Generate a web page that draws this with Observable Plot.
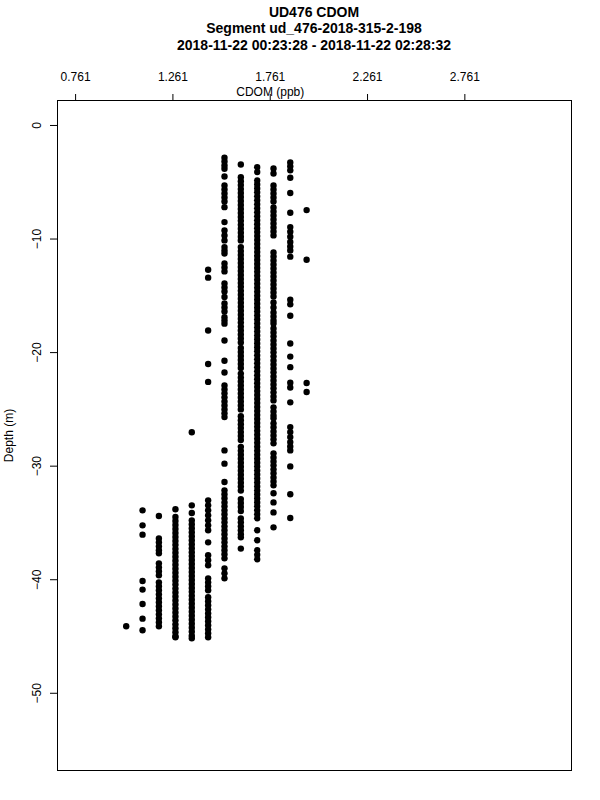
<!DOCTYPE html>
<html>
<head>
<meta charset="utf-8">
<script src="https://cdn.jsdelivr.net/npm/d3@7"></script>
<script src="https://cdn.jsdelivr.net/npm/@observablehq/plot@0.6"></script>
<style>
  html, body { margin: 0; padding: 0; background: #fff; }
  #wrap { position: relative; width: 600px; height: 800px; font-family: "Liberation Sans", Arial, Helvetica, sans-serif; }
  .ttl { position: absolute; left: 0; width: 628px; text-align: center; font-weight: bold; font-size: 14px; line-height: 16px; color: #000; white-space: nowrap; }
  #chart { position: absolute; left: 0; top: 0; }
</style>
</head>
<body>
<div id="wrap">
  <div id="chart"></div>
  <div class="ttl" style="top:4px">UD476 CDOM</div>
  <div class="ttl" style="top:20px">Segment ud_476-2018-315-2-198</div>
  <div class="ttl" style="top:37px">2018-11-22 00:23:28 - 2018-11-22 02:28:32</div>
</div>
<script>
// Instrument resolution: CDOM readings fall on discrete levels (ppb)
const cdomLevels = [1.021, 1.105, 1.189, 1.274, 1.358, 1.442, 1.526, 1.610, 1.694, 1.778, 1.864, 1.948];

// Depths (m, negative down) recorded at each CDOM level
const depthsL01 = [-44.1];
const depthsL02 = [-33.89, -35.21, -36.03, -40.11, -40.87, -42.14, -43.43, -44.45];
const depthsL03 = [-34.39, -36.36, -36.71, -37.06, -37.41, -37.68, -38.56, -38.91, -39.26, -39.61, -40.23, -40.58,
  -40.93, -41.29, -41.64, -41.99, -42.34, -42.69, -43.05, -43.40, -43.75, -44.10];
const depthsL04 = [-33.8, -34.48, -34.83, -35.18, -35.53, -35.88, -36.23, -36.58, -36.93, -37.28, -37.63, -37.98,
  -38.33, -38.68, -39.03, -39.38, -39.73, -40.08, -40.43, -40.78, -41.13, -41.48, -41.83, -42.18, -42.53, -42.88,
  -43.23, -43.58, -43.93, -44.28, -44.63, -44.98, -45.07];
const depthsL05 = [-27.02, -33.45, -34.13, -34.77, -35.12, -35.47, -35.82, -36.17, -36.52, -36.87, -37.22, -37.57,
  -37.92, -38.27, -38.62, -38.97, -39.32, -39.67, -40.02, -40.37, -40.72, -41.07, -41.42, -41.77, -42.12, -42.47,
  -42.82, -43.17, -43.52, -43.87, -44.22, -44.57, -44.92, -45.16];
const depthsL06 = [-12.7, -13.4, -18.05, -21.0, -22.58, -33.01, -33.45, -33.89, -34.33, -34.77, -35.21, -35.65,
  -36.71, -37.85, -38.29, -38.73, -39.88, -40.23, -40.58, -40.93, -41.55, -41.90, -42.25, -42.61, -42.96, -43.31,
  -43.66, -44.01, -44.37, -44.72, -45.07];
const depthsL07 = [-2.84, -3.17, -3.52, -3.81, -4.49, -5.28, -5.63, -5.99, -6.34, -6.69, -7.19, -8.51, -9.24, -9.68,
  -10.12, -10.71, -11.0, -11.27, -12.15, -12.50, -12.85, -13.91, -14.26, -14.61, -15.11, -15.67, -16.02, -16.37,
  -16.88, -17.17, -17.45, -18.93, -20.72, -21.75, -22.89, -23.24, -23.59, -23.94, -24.30, -24.65, -25.0, -25.35,
  -25.68, -28.61, -29.78, -31.40, -32.13, -32.48, -32.83, -33.19, -33.54, -33.89, -34.24, -34.60, -34.95, -35.30,
  -35.65, -36.0, -36.36, -36.71, -37.06, -37.41, -37.76, -38.12, -39.0, -39.44, -39.88];
const depthsL08 = [-3.43, -4.55, -4.9, -5.25, -5.6, -5.95, -6.3, -6.65, -7.0, -7.35, -7.7, -8.05, -8.4, -8.75, -9.1,
  -9.45, -9.8, -10.12, -10.71, -11.06, -11.41, -11.76, -12.11, -12.46, -12.81, -13.16, -13.51, -13.86, -14.21,
  -14.56, -14.91, -15.26, -15.61, -15.96, -16.31, -16.66, -17.01, -17.36, -17.71, -18.06, -18.41, -18.76, -19.11,
  -19.6, -19.95, -20.3, -20.65, -21.0, -21.35, -21.85, -22.2, -22.55, -22.9, -23.25, -23.6, -23.95, -24.3, -24.65,
  -25.0, -25.6, -25.95, -26.3, -26.65, -27.0, -27.35, -27.7, -28.3, -28.65, -29.0, -29.35, -29.7, -30.05, -30.4,
  -30.75, -31.1, -31.45, -31.8, -32.15, -32.9, -33.25, -33.6, -33.95, -34.6, -34.95, -35.3, -35.65, -36.0, -36.27,
  -37.26];
const depthsL09 = [-3.67, -4.1, -4.84, -5.19, -5.54, -5.89, -6.24, -6.59, -6.94, -7.29, -7.64, -7.99, -8.34, -8.69,
  -9.04, -9.39, -9.74, -10.09, -10.44, -10.79, -11.14, -11.49, -11.84, -12.19, -12.54, -12.89, -13.24, -13.59,
  -13.94, -14.29, -14.64, -14.99, -15.34, -15.69, -16.04, -16.39, -16.74, -17.09, -17.44, -17.79, -18.14, -18.49,
  -18.84, -19.19, -19.54, -19.89, -20.24, -20.59, -20.94, -21.29, -21.64, -21.99, -22.34, -22.69, -23.04, -23.39,
  -23.74, -24.09, -24.44, -24.79, -25.14, -25.49, -25.84, -26.19, -26.54, -26.89, -27.24, -27.59, -27.94, -28.29,
  -28.64, -28.99, -29.34, -29.69, -30.04, -30.39, -30.74, -31.09, -31.44, -31.79, -32.14, -32.49, -32.84, -33.19,
  -33.54, -33.89, -34.24, -34.59, -35.65, -36.53, -37.4, -37.8, -38.2];
const depthsL10 = [-3.79, -4.23, -5.28, -5.63, -5.99, -6.34, -6.69, -7.22, -7.57, -7.92, -8.27, -8.63, -8.98, -9.33,
  -9.68, -11.18, -11.53, -11.88, -12.24, -12.59, -12.94, -13.29, -13.64, -14.0, -14.35, -14.70, -15.05, -15.58,
  -16.02, -16.46, -16.81, -17.17, -17.43, -17.87, -18.22, -18.57, -18.93, -19.28, -19.63, -19.98, -20.33, -20.69,
  -21.04, -21.39, -21.74, -22.10, -22.45, -22.80, -23.15, -23.50, -23.86, -24.21, -24.82, -25.18, -25.53, -25.79,
  -26.23, -26.58, -26.94, -27.29, -27.64, -27.99, -28.87, -29.23, -29.58, -29.93, -30.28, -30.63, -30.99, -31.34,
  -31.69, -32.39, -33.19, -34.07, -35.39];
const depthsL11 = [-3.25, -3.6, -3.95, -4.6, -5.95, -7.68, -8.95, -9.35, -9.8, -10.25, -10.65, -11.0, -11.55, -15.35,
  -15.75, -16.76, -19.2, -20.35, -21.28, -22.65, -23.07, -24.38, -26.56, -27.0, -27.44, -27.88, -28.26, -28.61,
  -30.02, -32.48, -34.57];
const depthsL12 = [-7.45, -11.82, -22.68, -23.47];

const depthsByLevel = [depthsL01, depthsL02, depthsL03, depthsL04, depthsL05, depthsL06,
  depthsL07, depthsL08, depthsL09, depthsL10, depthsL11, depthsL12];

// Axis ticks
const xTicks = [0.761, 1.261, 1.761, 2.261, 2.761];
const yTicks = [0, -10, -20, -30, -40, -50];
const xLabel = "CDOM (ppb)";
const yLabel = "Depth (m)";

const obs = cdomLevels.flatMap((c, i) => depthsByLevel[i].map(d => ({cdom: c, depth: d})));

const fmtY = d => (d < 0 ? "\u2212" + Math.abs(d) : String(d));

const chart = Plot.plot({
  width: 600,
  height: 800,
  marginLeft: 57,
  marginRight: 29,
  marginTop: 100,
  marginBottom: 30,
  style: {fontFamily: "'Liberation Sans', Arial, Helvetica, sans-serif", fontSize: "12px", color: "#000", background: "#fff"},
  x: {domain: [0.668, 3.309], axis: "top", ticks: xTicks, tickSize: 7, tickFormat: () => "", label: null},
  y: {domain: [-56.8, 2.2], axis: "left", ticks: yTicks, tickSize: 7, tickFormat: () => "", label: null},
  marks: [
    Plot.frame({stroke: "#000", strokeWidth: 1}),
    Plot.text(xTicks, {x: d => d, frameAnchor: "top", dy: -23, text: d => d.toFixed(3), fontSize: 12, lineAnchor: "middle"}),
    Plot.text([xLabel], {x: [1.761], frameAnchor: "top", dy: -8, text: d => d, fontSize: 12, lineAnchor: "middle"}),
    Plot.text(yTicks, {y: d => d, frameAnchor: "left", dx: -20, rotate: -90, text: fmtY, fontSize: 12, textAnchor: "middle", lineAnchor: "middle"}),
    Plot.text([yLabel], {frameAnchor: "left", dx: -48, rotate: -90, text: d => d, fontSize: 12, textAnchor: "middle", lineAnchor: "middle"}),
    Plot.dot(obs, {x: "cdom", y: "depth", r: 3.2, fill: "#000", stroke: "none"})
  ]
});

document.getElementById("chart").appendChild(chart);
</script>
</body>
</html>
